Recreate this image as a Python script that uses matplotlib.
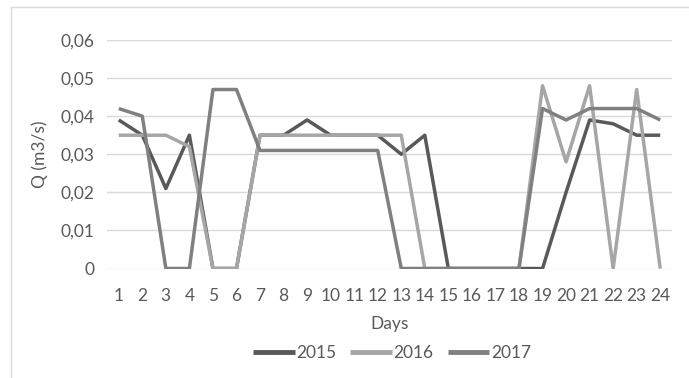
import matplotlib.pyplot as plt
from matplotlib.lines import Line2D

# daily discharge per year
days = list(range(1, 25))
q_2015 = [0.039, 0.035, 0.021, 0.035, 0, 0, 0.035, 0.035, 0.039, 0.035, 0.035, 0.035,
          0.030, 0.035, 0, 0, 0, 0, 0, 0.020, 0.039, 0.038, 0.035, 0.035]
q_2016 = [0.035, 0.035, 0.035, 0.032, 0, 0, 0.035, 0.035, 0.035, 0.035, 0.035, 0.035,
          0.035, 0, 0, 0, 0, 0, 0.048, 0.028, 0.048, 0, 0.047, 0]
q_2017 = [0.042, 0.040, 0, 0, 0.047, 0.047, 0.031, 0.031, 0.031, 0.031, 0.031, 0.031,
          0, 0, 0, 0, 0, 0, 0.042, 0.039, 0.042, 0.042, 0.042, 0.039]
y_ticks = [0, 0.01, 0.02, 0.03, 0.04, 0.05, 0.06]
y_ticklabels = ['0', '0,01', '0,02', '0,03', '0,04', '0,05', '0,06']

plt.rcParams['font.family'] = ['Lato', 'DejaVu Sans']
text_color = '#595959'
grid_color = '#D9D9D9'
fs = 12.5

fig = plt.figure(figsize=(6.89, 3.78), dpi=100)
ax = fig.add_axes([107 / 689, 1 - 268.5 / 378, (672 - 107) / 689, (268.5 - 40) / 378])

series = [('2015', q_2015, '#595959'), ('2016', q_2016, '#A6A6A6'), ('2017', q_2017, '#808080')]
for name, vals, col in series:
    ax.plot(days, vals, color=col, lw=2.5, label=name,
            solid_joinstyle='round', solid_capstyle='butt')

ax.set_xlim(0.5, 24.5)
ax.set_ylim(0, 0.06)
ax.set_xticks(days)
ax.set_xticklabels([str(d) for d in days])
ax.set_yticks(y_ticks)
ax.set_yticklabels(y_ticklabels)
ax.tick_params(length=0, labelsize=fs, colors=text_color, pad=9)
ax.tick_params(axis='x', pad=14)
for s in ax.spines.values():
    s.set_visible(False)
ax.grid(axis='y', color=grid_color, lw=1)
ax.set_axisbelow(True)

ax.set_xlabel('Days', fontsize=fs, color=text_color, labelpad=9)
ax.set_ylabel('Q (m3/s)', fontsize=fs, color=text_color, labelpad=9)

leg = fig.legend(loc='center', bbox_to_anchor=(392 / 689, 1 - 353 / 378), ncol=3,
                 frameon=False, fontsize=fs, handlelength=2.4, handletextpad=0.1,
                 columnspacing=0.8, labelcolor=text_color)
for h in leg.get_lines():
    h.set_linewidth(3.5)

# chart area border
fig.add_artist(Line2D([11 / 689, 1], [1 - 7 / 378, 1 - 7 / 378],
                      transform=fig.transFigure, color=grid_color, lw=1))
fig.add_artist(Line2D([11 / 689, 11 / 689], [0, 1 - 7 / 378],
                      transform=fig.transFigure, color=grid_color, lw=1))

fig.savefig('out.png', dpi=100)
